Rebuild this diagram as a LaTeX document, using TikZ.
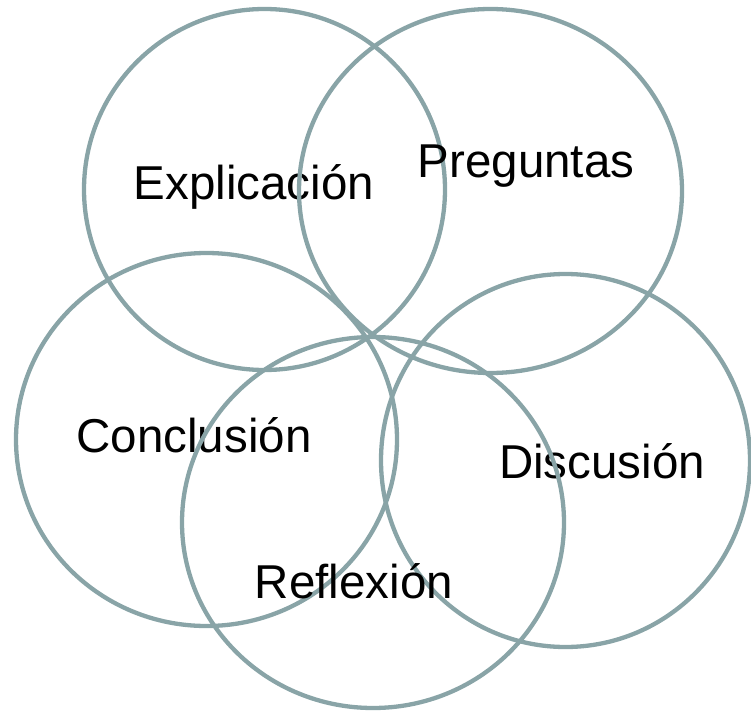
\documentclass[tikz,border=0pt]{standalone}
\usepackage{fontspec}
\setmainfont{Liberation Sans}
\definecolor{ring}{RGB}{137,164,167}
\begin{document}
\begin{tikzpicture}[x=1pt,y=-1pt,
  ring/.style={draw=ring,line width=4.3pt},
  lbl/.style={anchor=base,inner sep=0pt,font=\fontsize{47.5}{52}\selectfont,text=black}]
\useasboundingbox (0,0) rectangle (751,711);
\draw[ring] (264.5,189.5) ellipse [x radius=180.5,y radius=180.5];
\node[lbl] (expl) at (254,200) {Explicación};
\draw[ring] (490.5,191) ellipse [x radius=191.5,y radius=182];
\node[lbl] (preg) at (526,178) {Preguntas};
\draw[ring] (206.5,439.5) ellipse [x radius=190.5,y radius=186.5];
\node[lbl] (concl) at (194,452) {Conclusión};
\draw[ring] (565.5,460.5) ellipse [x radius=184.5,y radius=186.5];
\node[lbl] (disc) at (602,478) {Discusión};
\draw[ring] (373,522.5) ellipse [x radius=191,y radius=185.5];
\node[lbl] (refl) at (354,598) {Reflexión};
\end{tikzpicture}
\end{document}
